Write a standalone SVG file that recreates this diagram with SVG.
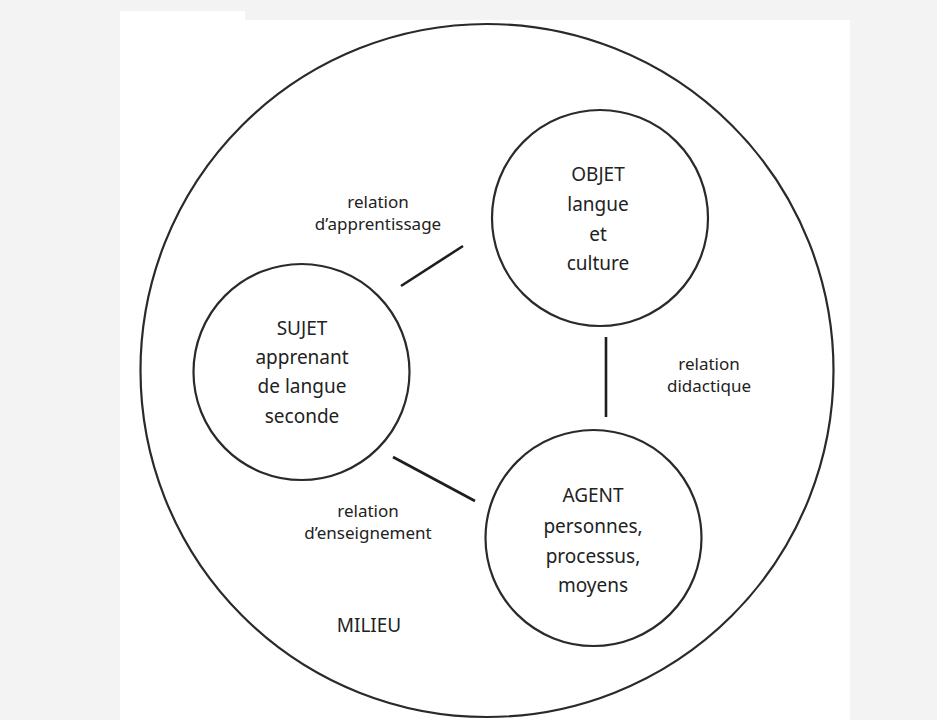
<svg xmlns="http://www.w3.org/2000/svg" width="937" height="720" viewBox="0 0 937 720">
  <style>
    .ring { fill: none; stroke: #2a2a2a; stroke-width: 2.2; }
    .conn { stroke: #1e1e1e; stroke-width: 2.6; stroke-linecap: butt; }
    text { font-family: "Noto Sans", "Open Sans", sans-serif; fill: #222; text-anchor: middle; }
    .node { font-size: 19px; }
    .lbl { font-size: 17px; }
  </style>
  <rect x="0" y="0" width="937" height="720" fill="#f3f3f3"/>
  <path d="M120 11 H245 V20 H850 V720 H120 Z" fill="#ffffff"/>

  <g id="milieu">
    <circle class="ring" cx="487" cy="370.5" r="346.5"/>
    <text class="node" x="369" y="632">MILIEU</text>
  </g>

  <g id="objet">
    <circle class="ring" cx="600" cy="218" r="108"/>
    <text class="node" x="598" y="181">OBJET</text>
    <text class="node" x="598" y="211">langue</text>
    <text class="node" x="598" y="241">et</text>
    <text class="node" x="598" y="270">culture</text>
  </g>

  <g id="sujet">
    <circle class="ring" cx="301.5" cy="372" r="108"/>
    <text class="node" x="302" y="335">SUJET</text>
    <text class="node" x="302" y="364">apprenant</text>
    <text class="node" x="302" y="393">de langue</text>
    <text class="node" x="302" y="423">seconde</text>
  </g>

  <g id="agent">
    <circle class="ring" cx="593.5" cy="538" r="108"/>
    <text class="node" x="593" y="502">AGENT</text>
    <text class="node" x="593" y="533">personnes,</text>
    <text class="node" x="593" y="563">processus,</text>
    <text class="node" x="593" y="592">moyens</text>
  </g>

  <g id="connectors">
    <line class="conn" x1="401" y1="286" x2="463" y2="246"/>
    <line class="conn" x1="606" y1="337" x2="606" y2="417"/>
    <line class="conn" x1="393" y1="457" x2="475" y2="501"/>
    <text class="lbl" x="378" y="208">relation</text>
    <text class="lbl" x="378" y="230">d’apprentissage</text>
    <text class="lbl" x="709" y="370">relation</text>
    <text class="lbl" x="709" y="392">didactique</text>
    <text class="lbl" x="368" y="517">relation</text>
    <text class="lbl" x="368" y="539">d’enseignement</text>
  </g>
</svg>
